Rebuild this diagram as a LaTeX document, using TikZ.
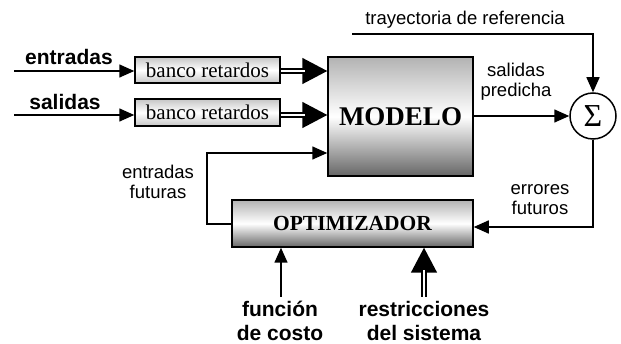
\documentclass[tikz,border=0pt]{standalone}
\usepackage{fontspec}
\setmainfont{Liberation Serif}
\newfontfamily\arial{Liberation Sans}
\usetikzlibrary{arrows.meta,calc}
\begin{document}
\begin{tikzpicture}[x=1pt,y=-1pt,
  line width=1.5pt,
  arr/.style={-{Triangle[length=15pt,width=13pt]}},
  dbl/.style={line width=1.5pt,-{Triangle[length=25pt,width=26pt]},
     postaction={draw,-,double,double distance=2.4pt,line width=1.4pt,shorten >=22pt}},
  delaybox/.style={draw,line width=1.5pt,minimum width=145pt,minimum height=26pt,inner sep=0pt,
     top color=gray!45,bottom color=gray!45,middle color=white,font=\fontsize{21}{24}\selectfont},
  bigbox/.style={draw,line width=1.5pt,inner sep=0pt,top color=gray!60,bottom color=gray!80!black,middle color=white},
  lbl/.style={font=\arial\fontsize{18.5}{20}\selectfont,align=center,inner sep=0pt},
  blbl/.style={font=\arial\bfseries\fontsize{21}{24}\selectfont,align=center,inner sep=0pt},
]
\useasboundingbox (0,0) rectangle (621,344);
% boxes
\node[delaybox] (b1) at (207.5,70) {banco retardos};
\node[delaybox,minimum height=27pt] (b2) at (207.5,112.5) {banco retardos};
\node[bigbox,minimum width=145pt,minimum height=119pt,font=\bfseries\fontsize{27}{30}\selectfont] (M) at (400.5,116.5) {MODELO};
\node[bigbox,minimum width=241pt,minimum height=47pt,font=\bfseries\fontsize{21.5}{24}\selectfont] (O) at (352.5,223.5) {OPTIMIZADOR};
\node[draw,circle,line width=1.5pt,minimum size=46pt,inner sep=0pt,font=\fontsize{32}{34}\selectfont] (S) at (593,116) {Σ};
% labels
\node[blbl] (le) at (69,57) {entradas};
\node[blbl] (ls) at (65,102) {salidas};
\node[lbl] (lt) at (465,20) {trayectoria de referencia};
\node[lbl] (lp) at (516,82) {salidas\\predicha};
\node[lbl] (lr) at (540,200) {errores\\futuros};
\node[lbl] (lf) at (158,182) {entradas\\futuras};
\node[blbl] (lc) at (280,321) {función\\de costo};
\node[blbl] (lx) at (424,321) {restricciones\\del sistema};
% coordinates
\coordinate (in1) at (14,71);
\coordinate (in2) at (14,115);
\coordinate (tr) at (352,34);
\coordinate (fb) at (207,153);
\coordinate (ef) at (593,227);
\coordinate (fc) at (281,297);
\coordinate (rs) at (424,297);
% connectors
\draw[arr] (in1) -- (in1 -| b1.west);
\draw[arr] (in2) -- (in2 -| b2.west);
\draw[dbl] (b1.east |- in1) -- (in1 -| M.west);
\draw[dbl] (b2.east |- in2) -- (in2 -| M.west);
\draw[arr] (M.east |- S.west) -- (S.west);
\draw[arr] (tr) -| (S.north);
\draw[arr] (S.south) -- (ef) -- (ef -| O.east);
\draw[arr] (O.west |- 0,224) -| (fb) -- (fb -| M.west);
\draw[arr] (fc) -- (fc |- O.south);
\draw[dbl] (rs) -- (rs |- O.south);
\end{tikzpicture}
\end{document}
